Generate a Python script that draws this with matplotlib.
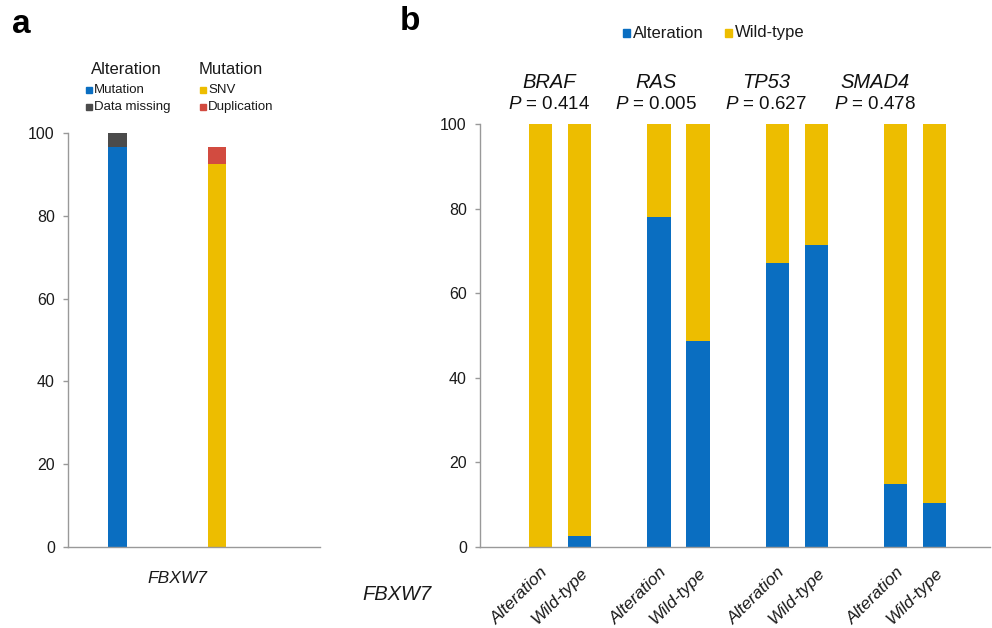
import matplotlib
matplotlib.use("Agg")
import matplotlib.pyplot as plt
from matplotlib.patches import Rectangle
from matplotlib.transforms import blended_transform_factory

plt.rcParams["font.family"] = ["Liberation Sans", "DejaVu Sans"]
plt.rcParams["mathtext.fontset"] = "custom"
plt.rcParams["mathtext.rm"] = "Liberation Sans"
plt.rcParams["mathtext.it"] = "Liberation Sans:italic"

# panel a: FBXW7 alteration / mutation breakdown (%)
a_alteration = {"Mutation": 96.6, "Data missing": 3.4}
a_mutation = {"SNV": 92.4, "Duplication": 4.1}

# panel b: FBXW7 alteration rate (%) by status of other genes
genes = ["BRAF", "RAS", "TP53", "SMAD4"]
p_values = ["0.414", "0.005", "0.627", "0.478"]
groups = ["Alteration", "Wild-type"]
alt_pct = [[0.0, 2.5], [77.9, 48.7], [67.1, 71.3], [14.9, 10.4]]

BLUE = "#0A6EC1"
YELLOW = "#EDBD00"
DARK = "#4B4B4B"
RED = "#D24B40"
SPINE = "#999999"
TXT = "#1a1a1a"
W, H = 992, 628


def fx(px):
    return px / W


def fy(py):
    return 1 - py / H


def style_axis(ax):
    for s in ["top", "right"]:
        ax.spines[s].set_visible(False)
    for s in ["left", "bottom"]:
        ax.spines[s].set_color(SPINE)
        ax.spines[s].set_linewidth(1.0)
    ax.set_ylim(0, 100)
    ax.set_yticks(range(0, 101, 20))
    ax.tick_params(axis="y", direction="out", length=3.5, width=1.0,
                   color=SPINE, labelsize=11.5, labelcolor=TXT, pad=6)


fig = plt.figure(figsize=(W / 100, H / 100), dpi=100)

# ---------------- panel a ----------------
axa = fig.add_axes([fx(68), fy(547), fx(320) - fx(68), fy(133) - fy(547)])
style_axis(axa)
bw = 0.19
bottom = 0
for (k, v), c in zip(a_alteration.items(), [BLUE, DARK]):
    axa.bar(0, v, bw, bottom=bottom, color=c)
    bottom += v
bottom = 0
for (k, v), c in zip(a_mutation.items(), [YELLOW, RED]):
    axa.bar(1, v, bw, bottom=bottom, color=c)
    bottom += v
axa.set_xlim(-0.497, 2.035)
axa.set_xticks([])
tr = blended_transform_factory(axa.transData, axa.transAxes)
axa.text(0.6, -0.075, "FBXW7", transform=tr, ha="center", va="center",
         fontsize=12.5, style="italic", color=TXT)

# legend of panel a (two column headers)
fig.text(fx(91), fy(70), "Alteration", fontsize=12, va="center", color=TXT)
fig.text(fx(199), fy(70), "Mutation", fontsize=12, va="center", color=TXT)
leg_a = [(86, 90, "Mutation", BLUE), (86, 107, "Data missing", DARK),
         (200, 90, "SNV", YELLOW), (200, 107, "Duplication", RED)]
for x0, yc, lab, c in leg_a:
    fig.patches.append(Rectangle((fx(x0), fy(yc + 3)), fx(6), 6 / H,
                                 transform=fig.transFigure, color=c))
    fig.text(fx(x0 + 8), fy(yc), lab, fontsize=9.5, va="center", color=TXT)

# ---------------- panel b ----------------
axb = fig.add_axes([fx(480), fy(547), fx(990) - fx(480), fy(124) - fy(547)])
style_axis(axb)
off = 0.165
bwb = 0.195
xpos, xlab = [], []
for i, g in enumerate(genes):
    for j, grp in enumerate(groups):
        x = i + (j * 2 - 1) * off
        a = alt_pct[i][j]
        axb.bar(x, a, bwb, color=BLUE)
        axb.bar(x, 100 - a, bwb, bottom=a, color=YELLOW)
        xpos.append(x)
        xlab.append(grp)
axb.set_xlim(-0.676, 3.63)
axb.set_xticks(xpos)
axb.set_xticklabels(xlab, rotation=45, ha="right", rotation_mode="anchor",
                    fontsize=12.5, style="italic", color=TXT)
axb.tick_params(axis="x", length=0, pad=13)

title_x = [-0.09, 0.81, 1.74, 2.66]
for tx, g, p in zip(title_x, genes, p_values):
    axb.text(tx, 109.7, g, ha="center", va="center", fontsize=14.5,
             style="italic", clip_on=False, color="#111111")
    axb.text(tx, 104.6, "$P$ = " + p, ha="center", va="center",
             fontsize=13.5, clip_on=False, color="#111111")

fig.text(fx(362), fy(594), "FBXW7", fontsize=14.5, style="italic",
         va="center", color=TXT)

for x0, lab, c in [(623, "Alteration", BLUE), (725, "Wild-type", YELLOW)]:
    fig.patches.append(Rectangle((fx(x0), fy(36.5)), fx(7), 7 / H,
                                 transform=fig.transFigure, color=c))
    fig.text(fx(x0 + 10), fy(33), lab, fontsize=12, va="center", color=TXT)

# panel letters
fig.text(fx(12), fy(33), "a", fontsize=24, fontweight="bold", va="baseline")
fig.text(fx(400), fy(30), "b", fontsize=24, fontweight="bold", va="baseline")

fig.savefig("out.png", dpi=100)
